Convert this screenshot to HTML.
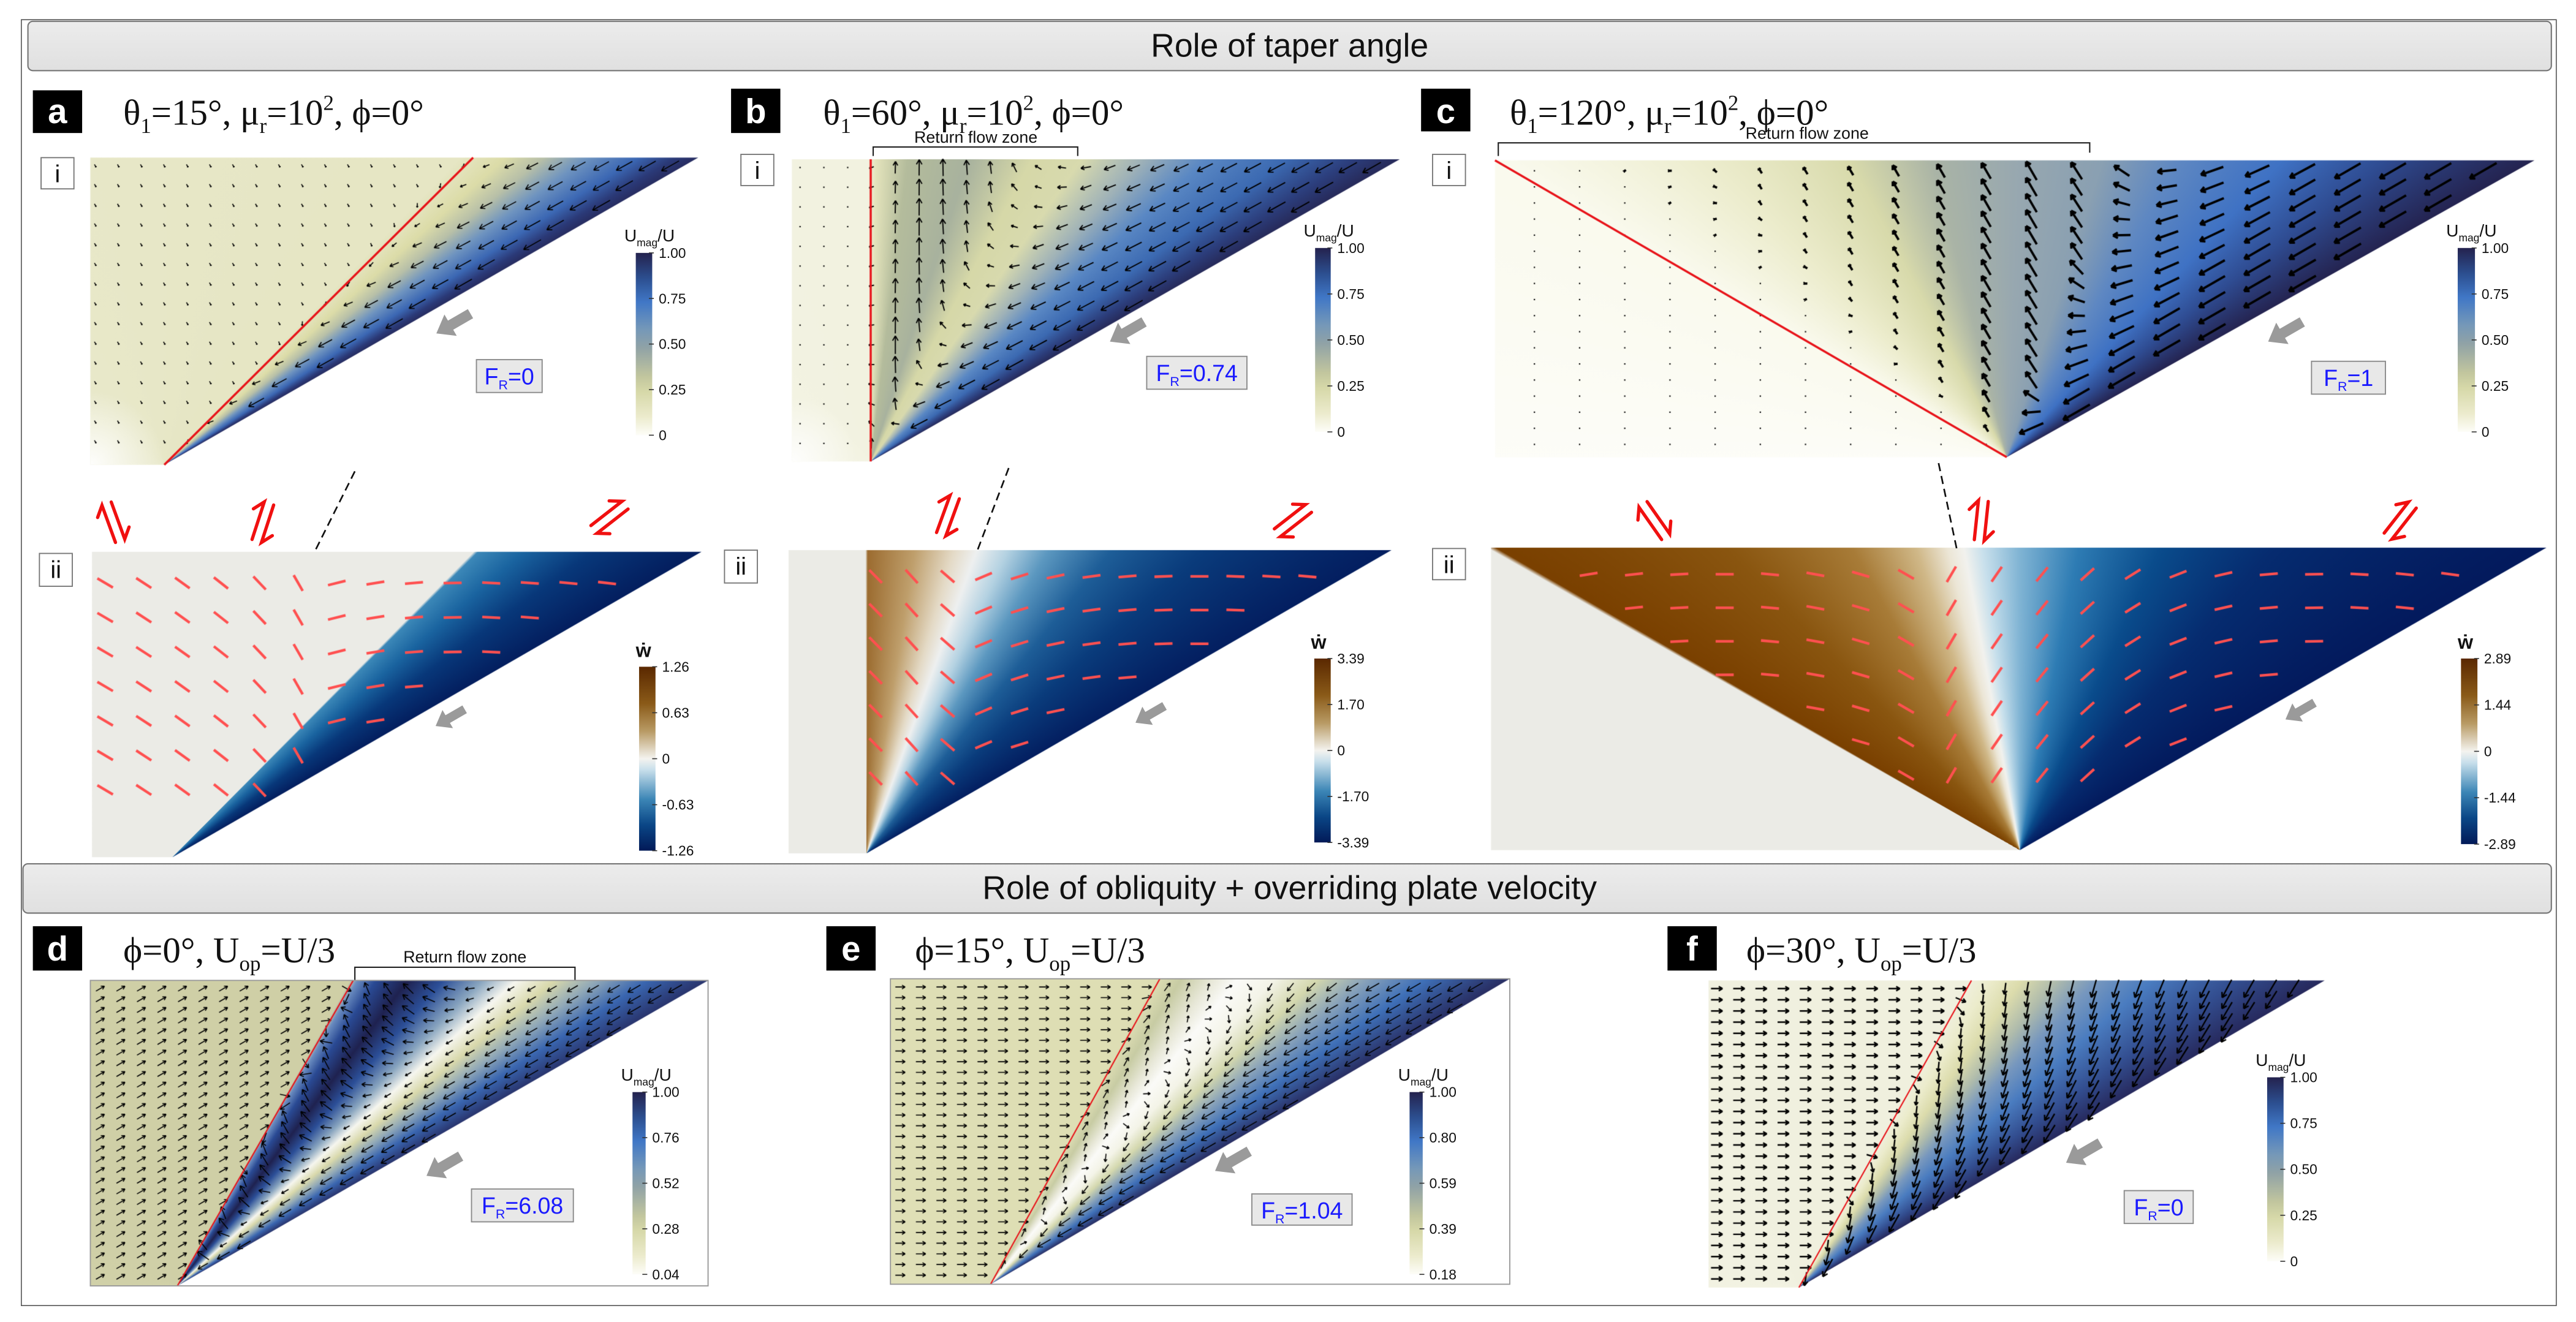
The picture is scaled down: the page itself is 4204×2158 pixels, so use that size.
<!DOCTYPE html>
<html><head><meta charset="utf-8"><title>Role of taper angle and obliquity</title>
<style>
html,body{margin:0;padding:0;background:#fff;}
#wrap{position:relative;width:4204px;height:2158px;overflow:hidden;}
#cv{position:absolute;left:0;top:0;}
#ov{position:absolute;left:0;top:0;}
</style></head>
<body>
<div id="wrap">
<canvas id="cv" width="4204" height="2158"></canvas>
<svg id="ov" width="4204" height="2158" viewBox="0 0 1568 805" preserveAspectRatio="none" xmlns="http://www.w3.org/2000/svg">
<defs>
<linearGradient id="gHead" x1="0" y1="0" x2="0" y2="1"><stop offset="0" stop-color="#ececec"/><stop offset="1" stop-color="#e0e0e0"/></linearGradient>
<linearGradient id="gU" x1="0" y1="0" x2="0" y2="1">
<stop offset="0" stop-color="#24224e"/><stop offset="0.14" stop-color="#2c4f90"/><stop offset="0.27" stop-color="#4077c6"/><stop offset="0.42" stop-color="#7598b8"/><stop offset="0.52" stop-color="#90a2a6"/><stop offset="0.68" stop-color="#c2c69e"/><stop offset="0.76" stop-color="#d6d8a8"/><stop offset="0.9" stop-color="#ecebcd"/><stop offset="1" stop-color="#fdfdf8"/></linearGradient>
<linearGradient id="gW" x1="0" y1="0" x2="0" y2="1">
<stop offset="0" stop-color="#5a2800"/><stop offset="0.2" stop-color="#8a5a18"/><stop offset="0.35" stop-color="#b89a64"/><stop offset="0.46" stop-color="#e4dccb"/><stop offset="0.5" stop-color="#f4f3ef"/><stop offset="0.56" stop-color="#c8dfeb"/><stop offset="0.72" stop-color="#3c86b6"/><stop offset="0.86" stop-color="#0a4686"/><stop offset="1" stop-color="#021a58"/></linearGradient>
</defs>
<rect x="13" y="12" width="1543" height="783" fill="none" stroke="#555" stroke-width="0.6"/>
<rect x="17" y="13" width="1536" height="30" rx="3" fill="url(#gHead)" stroke="#777" stroke-width="0.8"/>
<text x="785" y="34.5" text-anchor="middle" font-family="Liberation Sans, sans-serif" font-size="20" fill="#111">Role of taper angle</text>
<rect x="14" y="526" width="1539" height="30" rx="3" fill="url(#gHead)" stroke="#777" stroke-width="0.8"/>
<text x="785" y="547.5" text-anchor="middle" font-family="Liberation Sans, sans-serif" font-size="20" fill="#111">Role of obliquity + overriding plate velocity</text>

<g font-family="Liberation Sans, sans-serif" font-weight="bold" font-size="21" fill="#fff" text-anchor="middle">
<rect x="20" y="55" width="30" height="26" fill="#000"/><text x="35" y="75">a</text>
<rect x="445" y="54" width="30" height="27" fill="#000"/><text x="460" y="75">b</text>
<rect x="865" y="54" width="30" height="26" fill="#000"/><text x="880" y="75">c</text>
<rect x="20" y="564" width="30" height="27" fill="#000"/><text x="35" y="585">d</text>
<rect x="503" y="564" width="30" height="27" fill="#000"/><text x="518" y="585">e</text>
<rect x="1015" y="564" width="30" height="27" fill="#000"/><text x="1030" y="585">f</text>
</g>

<g font-family="Liberation Serif, DejaVu Serif, serif" font-size="22" fill="#111">
<text x="75" y="76">θ<tspan font-size="13" dy="5">1</tspan><tspan dy="-5">=15°, μ</tspan><tspan font-size="13" dy="5">r</tspan><tspan dy="-5">=10</tspan><tspan font-size="13" dy="-9">2</tspan><tspan dy="9">, ϕ=0°</tspan></text>
<text x="501" y="76">θ<tspan font-size="13" dy="5">1</tspan><tspan dy="-5">=60°, μ</tspan><tspan font-size="13" dy="5">r</tspan><tspan dy="-5">=10</tspan><tspan font-size="13" dy="-9">2</tspan><tspan dy="9">, ϕ=0°</tspan></text>
<text x="919" y="76">θ<tspan font-size="13" dy="5">1</tspan><tspan dy="-5">=120°, μ</tspan><tspan font-size="13" dy="5">r</tspan><tspan dy="-5">=10</tspan><tspan font-size="13" dy="-9">2</tspan><tspan dy="9">, ϕ=0°</tspan></text>
<text x="75" y="586">ϕ=0°, U<tspan font-size="13" dy="5">op</tspan><tspan dy="-5">=U/3</tspan></text>
<text x="557" y="586">ϕ=15°, U<tspan font-size="13" dy="5">op</tspan><tspan dy="-5">=U/3</tspan></text>
<text x="1063" y="586">ϕ=30°, U<tspan font-size="13" dy="5">op</tspan><tspan dy="-5">=U/3</tspan></text>
</g>

<g font-family="Liberation Sans, sans-serif" font-size="15" fill="#111" text-anchor="middle">
<rect x="25" y="96" width="20" height="19" fill="#fff" stroke="#777" stroke-width="0.7"/><text x="35" y="111">i</text>
<rect x="24" y="337" width="20" height="20" fill="#fff" stroke="#777" stroke-width="0.7"/><text x="34" y="352">ii</text>
<rect x="451" y="94" width="20" height="19" fill="#fff" stroke="#777" stroke-width="0.7"/><text x="461" y="109">i</text>
<rect x="441" y="335" width="20" height="20" fill="#fff" stroke="#777" stroke-width="0.7"/><text x="451" y="350">ii</text>
<rect x="872" y="94" width="20" height="19" fill="#fff" stroke="#777" stroke-width="0.7"/><text x="882" y="109">i</text>
<rect x="872" y="334" width="20" height="19" fill="#fff" stroke="#777" stroke-width="0.7"/><text x="882" y="349">ii</text>
</g>

<g fill="none" stroke="#222" stroke-width="0.8">
<path d="M531.5,95 V89.5 H656 V95"/>
<path d="M912,95 V87 H1272 V93"/>
<path d="M216,597 V589 H350 V597"/>
</g>
<g font-family="Liberation Sans, sans-serif" fill="#111" text-anchor="middle">
<text x="594" y="87" font-size="10">Return flow zone</text>
<text x="1100" y="84.5" font-size="10">Return flow zone</text>
<text x="283" y="586" font-size="10">Return flow zone</text>
</g>

<rect x="55" y="597" width="376" height="186" fill="none" stroke="#999" stroke-width="0.7"/>
<rect x="542" y="596" width="377" height="186" fill="none" stroke="#999" stroke-width="0.7"/>

<g stroke="#111" stroke-width="1" stroke-dasharray="5,3" fill="none">
<line x1="216" y1="287" x2="192" y2="335"/>
<line x1="614" y1="285" x2="595" y2="335"/>
<line x1="1180" y1="282" x2="1191" y2="334"/>
</g>

<g id="shear"></g>
<g id="grayarrows"></g>
<g id="fr"></g>
<g id="cbars"></g>
</svg>
</div>
<script>
const ticksUa = ['1.00','0.75','0.50','0.25','0'];
const ticksUb = ['1.00','0.75','0.50','0.25','0'];
const ticksUc = ['1.00','0.75','0.50','0.25','0'];
const ticksUd = ['1.00','0.76','0.52','0.28','0.04'];
const ticksUe = ['1.00','0.80','0.59','0.39','0.18'];
const ticksUf = ['1.00','0.75','0.50','0.25','0'];
const ticksWa = ['1.26','0.63','0','-0.63','-1.26'];
const ticksWb = ['3.39','1.70','0','-1.70','-3.39'];
const ticksWc = ['2.89','1.44','0','-1.44','-2.89'];
const frValues = ['0','0.74','1','6.08','1.04','0'];

const colAi = [[180,'#eaeacd'],[314,'#e6e6c4'],[318,'#dcdca8'],[321,'#b8c0a8'],[324,'#6f94c0'],[327,'#3c68b4'],[329,'#2b3a78'],[331,'#24224e']];
const colBi = [[180,'#f4f4e4'],[269.5,'#f2f2e0'],[271,'#e4e4bc'],[277,'#b4bc9c'],[288,'#a8b29e'],[298,'#d6d8a8'],[305,'#d8daae'],[312,'#9fb2b8'],[318,'#5a88c4'],[324,'#3c6ab2'],[328,'#2c3e7c'],[331,'#25244f']];
const colCi = [[180,'#fdfdf8'],[210,'#fafaee'],[225,'#ececcc'],[242,'#d8daab'],[256,'#aab4a6'],[272,'#98a8b0'],[288,'#8aa0b2'],[300,'#5f88c2'],[313,'#3f72c4'],[322,'#2f4c92'],[331,'#24224e']];
const colAii = [[180,'#ebebe6'],[314.6,'#ebebe6'],[315,'#3c88b8'],[319,'#1a64a0'],[324,'#08387a'],[331,'#031a5a']];
const colBii = [[180,'#ebebe6'],[269.8,'#ebebe6'],[270.2,'#9c6c30'],[279,'#bf9f6c'],[286,'#e4dac6'],[290,'#eef0f0'],[295,'#b4d2e2'],[301,'#5c98c0'],[309,'#1e5e98'],[318,'#0a3c7c'],[331,'#031c5e']];
const colCii = [[180,'#ebebe6'],[209.6,'#ebebe6'],[210,'#7a4000'],[226,'#8a5610'],[241,'#a87c38'],[251,'#d0b888'],[256.5,'#ece6d6'],[259.5,'#f2f2ee'],[263,'#c8e0ec'],[270,'#80b4d4'],[281,'#2e7cb4'],[295,'#0a4c8c'],[310,'#062c70'],[331,'#03195c']];
const colD = [[180,'#d0d0a8'],[299.5,'#cfcfa6'],[300.5,'#6a8cc0'],[303,'#2a4a94'],[307,'#1f2250'],[311,'#2c4f98'],[315,'#8aa6c0'],[318,'#f6f6ef'],[321,'#d9d9ac'],[324,'#90a8b8'],[327,'#3a66b0'],[331,'#24265a']];
const colE = [[180,'#e0e0b8'],[298.5,'#dedeb4'],[302,'#c8cca4'],[306,'#e8e8d8'],[309,'#fbfbf8'],[313,'#f4f4e8'],[317,'#d4d8ae'],[321,'#88a2ba'],[325,'#3f70b8'],[330,'#26275a']];
const colF = [[180,'#f2f2e2'],[299,'#f0f0de'],[302,'#ececcc'],[306,'#dcdcac'],[310,'#b0bcac'],[314,'#7898be'],[319,'#4a7cc0'],[325,'#334e90'],[330,'#26275a']];

const flowAi = [[180,60,2],[313,60,2],[317,160,4],[322,152,9],[331,150,13]];
const flowBi = [[180,90,1],[269,90,1],[272,272,6],[282,270,11],[294,262,7],[301,200,4],[308,160,7],[320,153,11],[331,150,13]];
const flowCi = [[180,90,1],[212,90,1],[226,238,3],[250,240,8],[275,240,13],[289,236,12],[296,182,10],[304,162,14],[318,150,18],[331,150,19]];
const flowD = [[180,-30,6],[299,-30,6],[302,250,8],[310,215,9],[317,150,4],[324,150,8],[331,150,10]];
const flowE = [[180,0,6],[298,0,6],[301,-60,6],[307,-80,4],[313,120,5],[321,150,9],[331,150,11]];
const flowF = [[180,0,7],[298.5,0,7],[302,95,6],[314,105,11],[331,125,13]];

const tiltA = [[60,30],[150,40],[172,58],[190,62],[200,-15],[250,-5],[300,3],[400,8]];
const tiltB = [[530,45],[575,50],[590,-25],[650,-10],[700,-3],[750,2],[840,8]];
const tiltC = [[960,-10],[1050,0],[1130,15],[1170,35],[1185,-60],[1250,-50],[1290,-35],[1330,-20],[1380,-5],[1450,5],[1550,12]];

const cv = document.getElementById('cv');
const ctx = cv.getContext('2d');
ctx.scale(4204/1568, 2158/805);

function pathPoly(p){ctx.beginPath();ctx.moveTo(p[0][0],p[0][1]);for(let i=1;i<p.length;i++)ctx.lineTo(p[i][0],p[i][1]);ctx.closePath();}
function field(poly, apex, stops){
  ctx.save(); pathPoly(poly); ctx.clip();
  const g = ctx.createConicGradient(0, apex[0], apex[1]);
  stops.forEach(s=>g.addColorStop(s[0]/360, s[1]));
  ctx.fillStyle = g; ctx.fillRect(0,0,1568,805); ctx.restore();
}
function fade(poly, cx, cy, r){
  ctx.save(); pathPoly(poly); ctx.clip();
  const g=ctx.createRadialGradient(cx,cy,0,cx,cy,r);
  g.addColorStop(0,'rgba(255,255,255,0.95)'); g.addColorStop(1,'rgba(255,255,255,0)');
  ctx.fillStyle=g; ctx.fillRect(cx-r,cy-r,2*r,2*r); ctx.restore();
}
function inPoly(p,x,y){let c=false;for(let i=0,j=p.length-1;i<p.length;j=i++){const xi=p[i][0],yi=p[i][1],xj=p[j][0],yj=p[j][1];if(((yi>y)!=(yj>y))&&(x<(xj-xi)*(y-yi)/(yj-yi)+xi))c=!c;}return c;}
function interp(st,a){
  if(a<=st[0][0]) return st[0].slice(1);
  for(let i=1;i<st.length;i++){ if(a<=st[i][0]){const t=(a-st[i-1][0])/(st[i][0]-st[i-1][0]);return st[i].slice(1).map((v,k)=>st[i-1][k+1]+(v-st[i-1][k+1])*t);} }
  return st[st.length-1].slice(1);
}
function angOf(apex,x,y){let a=Math.atan2(y-apex[1],x-apex[0])*180/Math.PI;if(a<0)a+=360;return a;}
function arrow(x,y,d,L,lw){
  const r=d*Math.PI/180,c=Math.cos(r),s=Math.sin(r);
  if(L<1.6){ctx.fillRect(x-0.4,y-0.4,0.8,0.8);return;}
  const tx=x-c*L/2,ty=y-s*L/2,hx=x+c*L/2,hy=y+s*L/2;
  ctx.lineWidth=lw;ctx.beginPath();ctx.moveTo(tx,ty);ctx.lineTo(hx,hy);
  const h=Math.min(3.4,L*0.38);
  for(const b of [150,-150]){const rb=(d+b)*Math.PI/180;ctx.moveTo(hx,hy);ctx.lineTo(hx+Math.cos(rb)*h,hy+Math.sin(rb)*h);}
  ctx.stroke();
}
function quiver(poly,apex,fl,x0,dx,y0,dy,lw,inset){
  ctx.save();ctx.strokeStyle='#000';ctx.fillStyle='#000';
  for(let y=y0;y<805;y+=dy)for(let x=x0;x<1568;x+=dx){
    if(!inPoly(poly,x,y)||!inPoly(poly,x+inset,y+inset))continue;
    const v=interp(fl,angOf(apex,x,y)); arrow(x,y,v[0],v[1],lw);
  } ctx.restore();
}
function dashes(poly,apex,tilt,x0,dx,y0,dy,n,mask){
  ctx.save();ctx.strokeStyle='#ff5050';ctx.lineWidth=1.6;
  for(let j=0;j<n;j++){const y=y0+j*dy;for(let x=x0;x<1568;x+=dx){
    if(!inPoly(poly,x,y)||!inPoly(poly,x+6,y+6))continue;
    if(mask!==undefined&&angOf(apex,x,y)<mask)continue;
    const t=interp(tilt,x)[0]*Math.PI/180;
    ctx.beginPath();ctx.moveTo(x-5.5*Math.cos(t),y-5.5*Math.sin(t));ctx.lineTo(x+5.5*Math.cos(t),y+5.5*Math.sin(t));ctx.stroke();}}
  ctx.restore();
}
function redLine(a,b,w){ctx.save();ctx.strokeStyle='#e8141a';ctx.lineWidth=w;ctx.beginPath();ctx.moveTo(a[0],a[1]);ctx.lineTo(b[0],b[1]);ctx.stroke();ctx.restore();}

const pAi=[[55,96],[425,96],[100,283],[55,283]], apAi=[100,283];
field(pAi,apAi,colAi); fade(pAi,55,283,45); quiver(pAi,apAi,flowAi,58,14,101,12,0.6,2); redLine(apAi,[288,96],1.3);
const pAii=[[56,336],[427,336],[105,522],[56,522]], apAii=[105,522];
field(pAii,apAii,colAii); dashes(pAii,apAii,tiltA,64,23.5,355,21,7);
const pBi=[[482,97],[852,97],[530,281],[482,281]], apBi=[530,281];
field(pBi,apBi,colBi); fade(pBi,482,281,40); quiver(pBi,apBi,flowBi,487,14.5,102,12,0.7,2); redLine(apBi,[530,97],1.3);
const pBii=[[480,335],[847,335],[527.5,519.6],[480,519.6]], apBii=[527.5,519.6];
field(pBii,apBii,colBii); dashes(pBii,apBii,tiltB,533,21.9,351,20.5,7,270.5);
const pCi=[[910,97.6],[1542.7,97.6],[1221.5,278.4],[910,278.4]], apCi=[1221.5,278.4];
field(pCi,apCi,colCi); quiver(pCi,apCi,flowCi,934,27.5,104,9.8,1.4,2); redLine(apCi,[910,97.6],1.3);
const pCii=[[907.6,333.5],[1550,333.5],[1229.5,517.7],[907.6,517.7]], apCii=[1229.5,517.7];
field(pCii,apCii,colCii); dashes(pCii,apCii,tiltC,967,27.6,349.7,20.4,7,210.5);
const pD=[[55,597],[431,597],[108,783],[55,783]], apD=[108,783];
field(pD,apD,colD); quiver(pD,apD,flowD,61,12.5,602,6.5,0.6,1); redLine(apD,[215,597],0.8);
const pE=[[542,596],[919,596],[603,782],[542,782]], apE=[603,782];
field(pE,apE,colE); quiver(pE,apE,flowE,548,12.5,601,6.5,0.6,1); redLine(apE,[706,596],0.8);
const pF=[[1040,597],[1415,597],[1095,784],[1040,784]], apF=[1095,784];
field(pF,apF,colF); quiver(pF,apF,flowF,1045,13.5,602,6.8,0.9,1); redLine(apF,[1200,597],0.8);

const NS='http://www.w3.org/2000/svg';
function mk(tag,attrs,parent){const e=document.createElementNS(NS,tag);for(const k in attrs)e.setAttribute(k,attrs[k]);parent.appendChild(e);return e;}

const cbG=document.getElementById('cbars');
const cbSpecs=[
 [387,154,10,111,'gU',ticksUa,'U'],[389,406,10,112,'gW',ticksWa,'W'],
 [800.5,151,9.5,112,'gU',ticksUb,'U'],[800,401,10,112,'gW',ticksWb,'W'],
 [1496,151,10.5,112,'gU',ticksUc,'U'],[1498,401,10,113,'gW',ticksWc,'W'],
 [385,665,8,111,'gU',ticksUd,'U'],[858,665,8,111,'gU',ticksUe,'U'],[1380,656,10,112,'gU',ticksUf,'U']];
cbSpecs.forEach((c,i)=>{
  const r=mk('rect',{x:c[0],y:c[1],width:c[2],height:c[3],fill:'url(#'+c[4]+')'},cbG);
  
  
  c[5].forEach((t,k)=>{
    const y=c[1]+c[3]*k/(c[5].length-1);
    mk('line',{x1:c[0]+c[2]-2,y1:y,x2:c[0]+c[2]+1,y2:y,stroke:'#333','stroke-width':0.6},cbG);
    const tx=mk('text',{x:c[0]+c[2]+4,y:y+3,'font-family':'Liberation Sans, sans-serif','font-size':8.5,fill:'#111'},cbG);
    tx.textContent=t;
    
    
  });
  let tt;
  if(c[6]==='U'){
    tt=mk('text',{x:c[0]-7,y:c[1]-7,'font-family':'Liberation Sans, sans-serif','font-size':10.5,fill:'#111'},cbG);
    tt.innerHTML='U<tspan font-size="6.5" dy="3">mag</tspan><tspan dy="-3">/U</tspan>';
  } else {
    tt=mk('text',{x:c[0]-2,y:c[1]-6,'font-family':'Liberation Sans, sans-serif','font-size':12,'font-weight':'bold',fill:'#111'},cbG);
    tt.textContent='ẇ';
  }
  
  
});

const frG=document.getElementById('fr');
const frBoxes=[[290,219,40,20],[698,217,61,20],[1407,220,45,20],[287,724,62,20],[762,727,61,19],[1293,725,42,20]];
frBoxes.forEach((b,i)=>{
  const r=mk('rect',{x:b[0],y:b[1],width:b[2],height:b[3],fill:'#e8e8e8',stroke:'#8a8a8a','stroke-width':0.7},frG);
  
  
  const t=mk('text',{x:b[0]+b[2]/2,y:b[1]+15,'text-anchor':'middle','font-family':'Liberation Sans, sans-serif','font-size':14,fill:'#1a1aff'},frG);
  t.innerHTML='F<tspan font-size="8" dy="3">R</tspan><tspan dy="-3">='+frValues[i]+'</tspan>';
  
  
});

const gaG=document.getElementById('grayarrows');
const grayArr=[[276,197,1],[274,437,0.85],[686,202,1],[700,435,0.85],[1391,202,1],[1400,433,0.85],[270,710,1],[750,707,1],[1268,702,1]];
grayArr.forEach(g=>{
  const p=mk('polygon',{points:'-12,-3.2 2,-3.2 2,-7.5 12,0 2,7.5 2,3.2 -12,3.2',fill:'#9a9a9a',transform:'translate('+g[0]+','+g[1]+') rotate(150) scale('+g[2]+')'},gaG);
  
  
});

const shG=document.getElementById('shear');
const shearSyms=[[69,318,70],[160,318,-72],[371,315,-38],[577,314,-70],[787,317,-38],[1007,317,55],[1206,317,-84],[1461,317,-52]];
shearSyms.forEach(s=>{
  const g=mk('g',{transform:'translate('+s[0]+','+s[1]+') rotate('+s[2]+')',stroke:'#f01010','stroke-width':2,fill:'none','stroke-linecap':'round'},shG);
  
  
  mk('path',{d:'M-12,-3 L12,-3 L6,-8'},g);
  mk('path',{d:'M12,3 L-12,3 L-6,8'},g);
});
</script>
</body></html>
